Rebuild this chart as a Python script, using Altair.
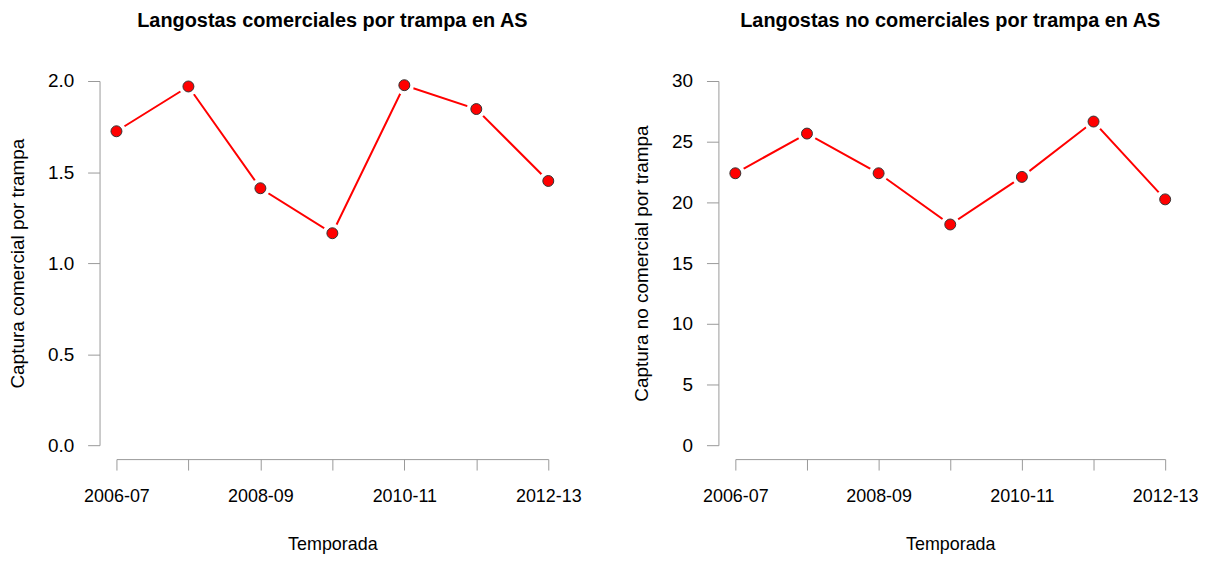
import altair as alt
import pandas as pd

seasons = ["2006-07", "2007-08", "2008-09", "2009-10", "2010-11", "2011-12", "2012-13"]
comercial = [1.724, 1.970, 1.411, 1.164, 1.977, 1.846, 1.451]
no_comercial = [22.40, 25.67, 22.40, 18.18, 22.10, 26.66, 20.25]
shown_labels = ["2006-07", "2008-09", "2010-11", "2012-13"]

FONT = "Liberation Sans"
AXIS_GREY = "#999999"

df1 = pd.DataFrame({"Temporada": seasons, "valor": comercial})
df2 = pd.DataFrame({"Temporada": seasons, "valor": no_comercial})

label_expr = "indexof(" + str(shown_labels) + ", datum.label) >= 0 ? datum.label : ''"


def panel(df, title, ytitle, ymax, ystep, fmt, width):
    x = alt.X(
        "Temporada:O",
        sort=seasons,
        scale=alt.Scale(type="point", padding=0),
        axis=alt.Axis(
            title="Temporada",
            labelExpr=label_expr,
            labelAngle=0,
            offset=14,
            tickSize=11,
            labelPadding=18,
            labelFontSize=18,
            titleFontSize=18,
            titleFontWeight="normal",
            titlePadding=30,
            domainColor=AXIS_GREY,
            tickColor=AXIS_GREY,
            labelColor="#000000",
            titleColor="#000000",
            grid=False,
        ),
    )
    yvals = [round(i * ystep, 2) for i in range(int(round(ymax / ystep)) + 1)]
    y = alt.Y(
        "valor:Q",
        scale=alt.Scale(domain=[0, ymax], nice=False, zero=True),
        axis=alt.Axis(
            title=ytitle,
            values=yvals,
            format=fmt,
            offset=17,
            tickSize=12,
            labelPadding=14,
            labelFontSize=19,
            titleFontSize=19,
            titleFontWeight="normal",
            titlePadding=20,
            domainColor=AXIS_GREY,
            tickColor=AXIS_GREY,
            labelColor="#000000",
            titleColor="#000000",
            grid=False,
        ),
    )
    base = alt.Chart(df).encode(x=x, y=y)
    line = base.mark_line(color="#FF0000", strokeWidth=2)
    halo = base.mark_point(filled=True, shape="circle", size=380, color="white", opacity=1)
    pts = base.mark_point(
        filled=True, shape="circle", size=121, fill="#FF0000", stroke="#333333",
        strokeWidth=1, opacity=1,
    )
    return alt.layer(line, halo, pts).properties(
        width=width,
        height=366,
        title=alt.TitleParams(
            text=title, fontSize=20, fontWeight="bold", font=FONT, anchor="middle",
            offset=41, color="#000000",
        ),
    )


left = panel(df1, "Langostas comerciales por trampa en AS", "Captura comercial por trampa", 2.0, 0.5, ".1f", 434)
right = panel(df2, "Langostas no comerciales por trampa en AS", "Captura no comercial por trampa", 30, 5, "d", 432)

chart = (
    alt.hconcat(left, right, spacing=50)
    .properties(padding={"left": 0, "top": 2, "right": 0, "bottom": 0})
    .configure(font=FONT)
    .configure_view(stroke=None)
    .configure_axis(labelFont=FONT, titleFont=FONT)
)

chart.save("out.html", embed_options={"renderer": "svg", "actions": False})
